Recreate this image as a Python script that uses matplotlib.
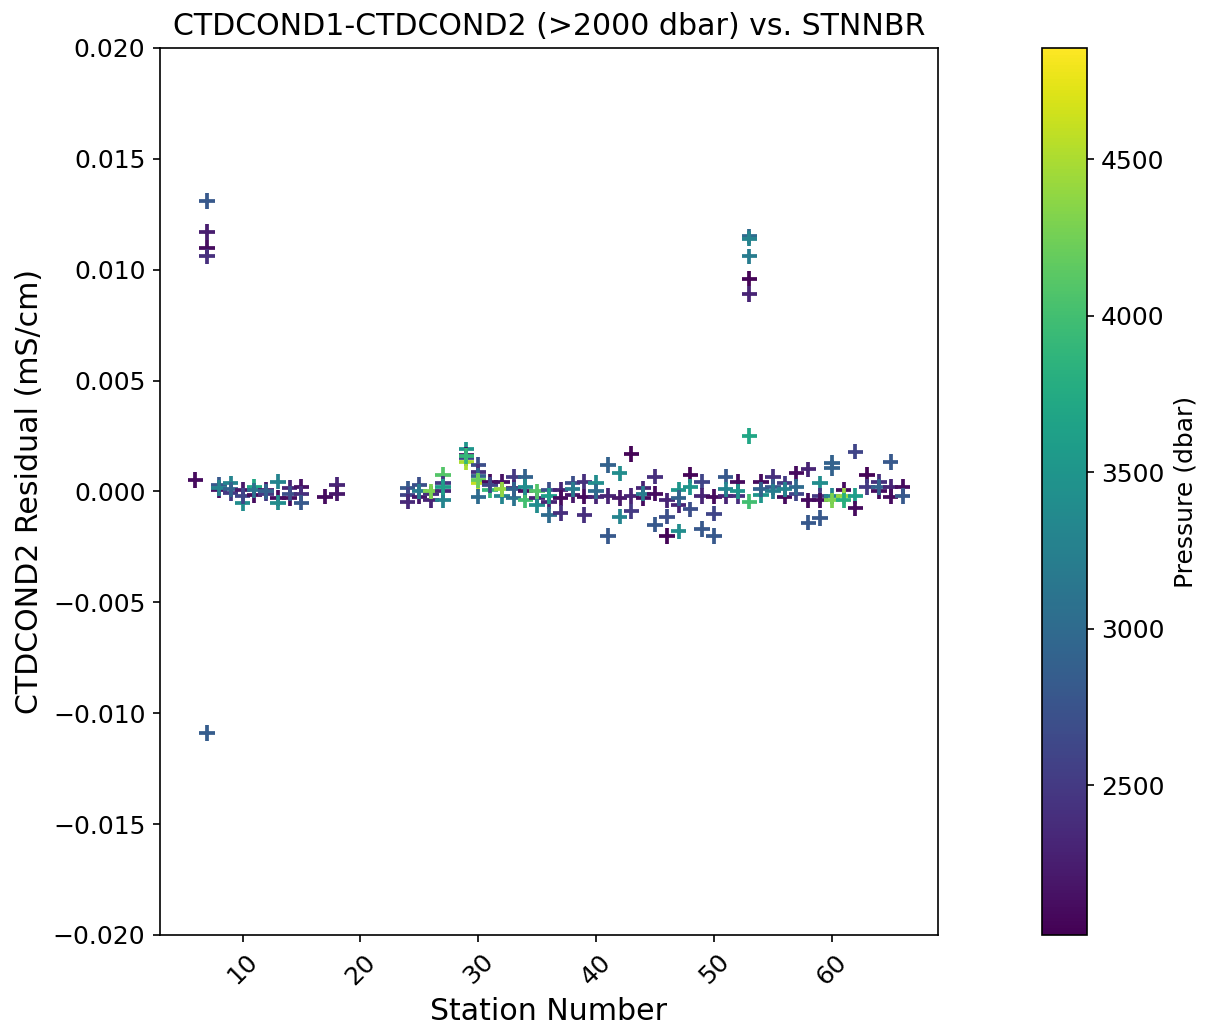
import numpy as np
import matplotlib
matplotlib.use("Agg")
import matplotlib.pyplot as plt

# station, residual (mS/cm), pressure (dbar)
stn = [6,
       7, 7, 7, 7, 7,
       8, 8, 8, 9, 9, 9, 10, 10, 10, 11, 11, 11, 12, 12, 12,
       13, 13, 13, 14, 14, 14, 15, 15, 15, 17, 18, 18,
       24, 24, 24, 25, 25, 25, 26, 26, 26, 27, 27, 27, 27, 27,
       29, 29, 29, 29, 29, 30, 30, 30, 30, 30, 30,
       31, 31, 31, 32, 32, 32, 33, 33, 33, 33, 34, 34, 34, 34,
       35, 35, 35, 36, 36, 36, 36, 37, 37, 37, 38, 38, 38,
       39, 39, 39, 40, 40, 40, 41, 41, 41, 42, 42, 42, 43, 43, 43,
       44, 44, 44, 45, 45, 45, 46, 46, 46, 47, 47, 47, 47,
       48, 48, 48, 49, 49, 49, 50, 50, 50, 51, 51, 51, 52, 52, 52,
       53, 53, 53, 53, 53, 53, 53,
       54, 54, 54, 55, 55, 55, 56, 56, 56, 57, 57, 57, 58, 58, 58,
       59, 59, 59, 59, 60, 60, 60, 60, 61, 61, 61, 62, 62, 62,
       63, 63, 64, 64, 64, 65, 65, 65, 66, 66]
resid = [0.00052,
         0.0131, 0.0117, 0.0110, 0.0106, -0.0109,
         0.0003, 0.00007, 0.00015, 0.00037, -0.00007, 0.0001, 0.00007, -0.00052, -0.0002, 0.0002, -0.00016, 0.00005,
         0.00007, -0.0001, 0.0, 0.00044, -0.0003, -0.0005, 0.00015, -0.0003, -0.0001, 0.0002, -0.0001, -0.0005,
         -0.00023, 0.0003, -0.0001,
         0.00014, -0.00016, -0.00046, 0.0003, -0.00023, 0.0, -0.0001, -0.0004, 0.0,
         0.00074, 0.00037, 0.0, -0.0004, 0.0002,
         0.0019, 0.00165, 0.0015, 0.00134, 0.0016, 0.0012, 0.0009, 0.0007, 0.00038, -0.00023, 0.0005,
         0.00044, 0.00007, 0.0003, 0.00044, -0.0002, 0.0001, 0.00067, 0.00015, -0.0003, 0.0001,
         0.00067, 0.0, -0.0004, 0.0002,
         -0.0003, -0.0006, 0.0, 0.00007, -0.00046, -0.00106, -0.0002, 0.00007, -0.0003, -0.00098,
         0.00037, -0.00017, 0.0001,
         0.00044, -0.00023, -0.00106, 0.0004, -0.00023, 0.0, 0.0012, -0.0002, -0.002, 0.00082, -0.0003, -0.00114,
         0.0017, -0.0002, -0.0009,
         0.00014, -0.0003, -0.0001, 0.00067, -0.0001, -0.0015, -0.0004, -0.00114, -0.002, 0.00007, -0.0006, -0.0018, -0.0003,
         0.00074, 0.0002, -0.0008, 0.00044, -0.0002, -0.0017, -0.00023, -0.001, -0.002, 0.00067, -0.0002, 0.0001,
         0.00044, -0.0002, 0.0,
         0.0115, 0.0114, 0.0106, 0.0096, 0.0089, 0.0025, -0.00046,
         0.00044, -0.00016, 0.0001, 0.00067, 0.0002, 0.0, 0.00037, -0.00023, 0.0001, 0.00082, -0.0001, 0.0002,
         0.001, -0.0004, -0.0014,
         0.00037, -0.0002, -0.0012, -0.0004, 0.0013, 0.00105, -0.0002, -0.0004, 0.00007, -0.0002, -0.0004,
         0.0018, -0.0002, -0.00076,
         0.00074, 0.0002, 0.00044, 0.0, 0.0002, 0.00134, 0.0002, -0.00023, 0.0002, -0.0002]
pres = [2100,
        2800, 2250, 2100, 2400, 2850,
        2800, 2150, 3300, 3300, 2500, 2900, 2200, 3400, 2600, 3700, 2100, 3100,
        2200, 2500, 2900, 3300, 2100, 3400, 2300, 2100, 2700, 2150, 2400, 2800,
        2100, 2300, 2200,
        2800, 2600, 2350, 2700, 2200, 3200, 2400, 2300, 4300,
        4100, 2500, 2300, 3300, 3600,
        3500, 2150, 2600, 4500, 3900, 2700, 2400, 2900, 4600, 3000, 4200,
        2100, 3900, 2600, 2150, 3300, 4400, 2500, 2300, 3100, 2900,
        2900, 2100, 4000, 3400,
        2300, 3400, 4100, 2700, 2300, 3000, 3600, 2300, 2100, 2400,
        2700, 2200, 3200,
        2400, 2100, 2400, 3400, 2300, 3000, 2900, 2300, 2800, 3400, 2200, 3300,
        2050, 2300, 2500,
        2300, 2100, 3200, 2400, 2100, 2800, 2300, 2700, 2050, 3500, 2300, 3400, 2900,
        2050, 3500, 2700, 2600, 2300, 2800, 2100, 2600, 2800, 2800, 2300, 3300,
        2100, 2400, 3500,
        3000, 3300, 3200, 2050, 2300, 3700, 4000,
        2100, 3500, 2900, 2400, 2800, 3200, 2500, 2100, 3300, 2100, 2600, 3000,
        2300, 2100, 2800,
        3400, 2500, 2800, 2100, 2900, 2900, 3300, 4300, 2100, 4400, 3800,
        2600, 3600, 2100,
        2050, 2500, 2400, 2100, 2900, 2800, 2300, 2100, 2100, 2800]

vmin, vmax = 2021, 4855

plt.rcParams['font.size'] = 12

fig = plt.figure(figsize=(8.04, 6.88), dpi=150)
ax = fig.add_axes([0.1327, 0.094, 0.645, 0.8595])
cax = fig.add_axes([0.8637, 0.094, 0.0373, 0.8595])

sc = ax.scatter(stn, resid, c=pres, cmap='viridis', marker='+', s=55,
                linewidths=1.8, vmin=vmin, vmax=vmax)
ax.set_ylim(-0.02, 0.02)
ax.set_xlabel('Station Number', fontsize=14.4)
ax.set_ylabel('CTDCOND2 Residual (mS/cm)', fontsize=14.4)
ax.set_title('CTDCOND1-CTDCOND2 (>2000 dbar) vs. STNNBR', fontsize=14.4)
ax.tick_params(axis='x', labelrotation=45)

cb = fig.colorbar(sc, cax=cax)
cb.set_label('Pressure (dbar)', fontsize=12)

fig.savefig('out.png', dpi=150)
